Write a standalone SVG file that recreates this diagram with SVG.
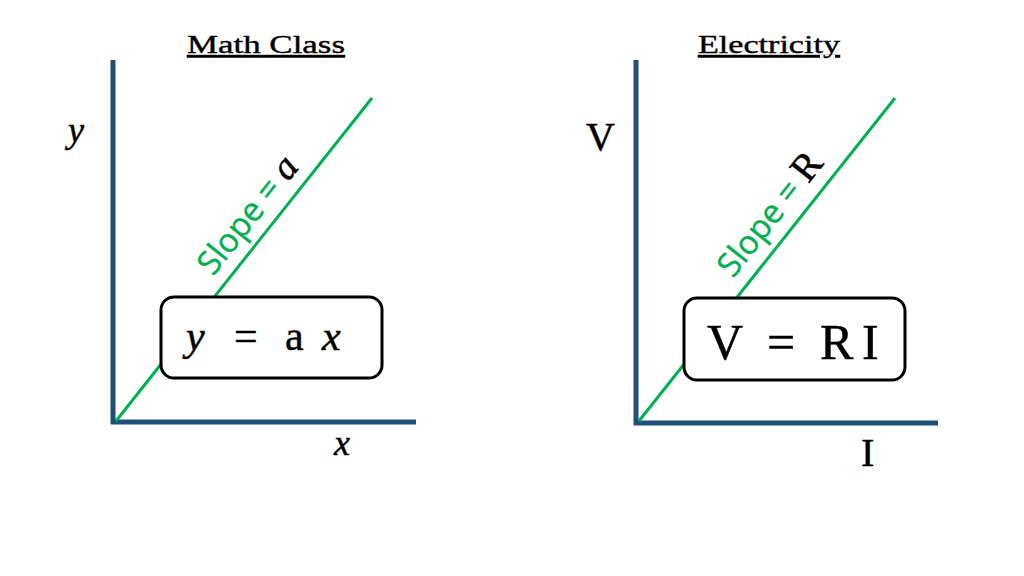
<svg xmlns="http://www.w3.org/2000/svg" width="1024" height="576" viewBox="0 0 1024 576">
<style>
.axis{stroke:#1F4E79;stroke-width:5;fill:none}
.line{stroke:#00B050;stroke-width:3;fill:none}
.box{fill:#fff;stroke:#000;stroke-width:3}
.title{font-family:"Liberation Serif",serif;font-size:26px;fill:#000;stroke:#000;stroke-width:0.4;text-decoration:underline}
.serif{font-family:"Liberation Serif",serif;fill:#000;stroke:#000;stroke-width:0.5}
.slope{font-family:"Open Sans","Liberation Sans",sans-serif;font-size:33px;fill:#00B050;stroke:#00B050;stroke-width:0.4}
</style>
<rect width="1024" height="576" fill="#fff"/>
<g id="math-class">
  <text class="title" x="266" y="53" text-anchor="middle" textLength="158" lengthAdjust="spacingAndGlyphs">Math Class</text>
  <g id="math-axes">
    <line class="axis" x1="113" y1="60" x2="113" y2="424"/>
    <line class="axis" x1="111" y1="422" x2="416" y2="422"/>
  </g>
  <line class="line" x1="116" y1="421" x2="372" y2="98"/>
  <text class="slope" transform="translate(213,277) rotate(-51.6)">Slope = <tspan class="serif" font-style="italic" font-size="38">a</tspan></text>
  <text class="serif" x="68" y="142" font-size="36" font-style="italic">y</text>
  <text class="serif" x="334" y="455" font-size="36" font-style="italic">x</text>
  <g id="math-eq">
    <rect class="box" x="161" y="297" width="221" height="81" rx="13"/>
    <text class="serif" x="186" y="350" font-size="42"><tspan font-style="italic">y</tspan><tspan x="234">=</tspan><tspan x="285">a</tspan><tspan x="322" font-style="italic">x</tspan></text>
  </g>
</g>
<g id="electricity">
  <text class="title" x="769" y="53" text-anchor="middle" textLength="142" lengthAdjust="spacingAndGlyphs">Electricity</text>
  <g id="elec-axes">
    <line class="axis" x1="636" y1="60" x2="636" y2="425"/>
    <line class="axis" x1="634" y1="423" x2="938" y2="423"/>
  </g>
  <line class="line" x1="639" y1="421" x2="895" y2="98"/>
  <text class="slope" transform="translate(733,279) rotate(-51.6)">Slope = <tspan class="serif" font-size="39">R</tspan></text>
  <text class="serif" x="586" y="150" font-size="40">V</text>
  <text class="serif" x="861" y="466" font-size="40">I</text>
  <g id="elec-eq">
    <rect class="box" x="684" y="298" width="221" height="82" rx="13"/>
    <text class="serif" x="707" y="359" font-size="50">V<tspan x="767">=</tspan><tspan x="820">R</tspan><tspan x="862">I</tspan></text>
  </g>
</g>
</svg>
